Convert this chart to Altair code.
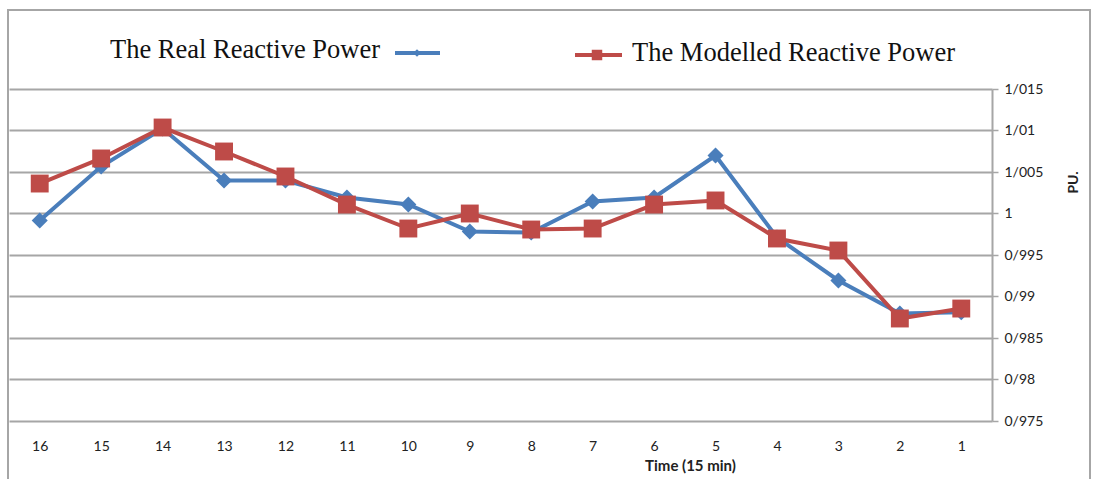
import altair as alt
import pandas as pd

times = ["16", "15", "14", "13", "12", "11", "10", "9", "8", "7", "6", "5", "4", "3", "2", "1"]
real = [0.99916, 1.00566, 1.01024, 1.00398, 1.00398, 1.00193, 1.00108, 0.99783,
        0.99771, 1.00145, 1.00193, 1.00699, 0.99711, 0.99193, 0.98795, 0.98810]
modelled = [1.00361, 1.00663, 1.01036, 1.00747, 1.00446, 1.00108, 0.99819, 1.00000,
            0.99807, 0.99819, 1.00108, 1.00157, 0.99699, 0.99554, 0.98735, 0.98855]
y_ticks = [0.975, 0.98, 0.985, 0.99, 0.995, 1.0, 1.005, 1.01, 1.015]

BLUE = "#4A7EBB"
RED = "#BE4B48"
GRID = "#A6A6A6"
AXFONT = "Lato"

df_real = pd.DataFrame({"time": times, "value": real})
df_mod = pd.DataFrame({"time": times, "value": modelled})

x_enc = alt.X(
    "time:O", sort=times, title="Time (15 min)",
    axis=alt.Axis(
        labelAngle=0, ticks=False, domain=False, grid=False,
        labelFont=AXFONT, labelFontSize=14, labelColor="#222222",
        labelPadding=18,
        titleFont=AXFONT, titleFontSize=15, titleFontWeight="bold",
        titleColor="#222222", titleX=681, titleY=44, titleBaseline="middle", titleAlign="center",
    ),
)
y_enc = alt.Y(
    "value:Q", title="PU.",
    scale=alt.Scale(domain=[0.975, 1.015], nice=False, zero=False),
    axis=alt.Axis(
        orient="right", values=y_ticks,
        labelExpr="replace(format(datum.value, '.3~f'), '.', '/')",
        labelFont=AXFONT, labelFontSize=14, labelColor="#222222",
        labelPadding=6,
        domain=True, domainColor=GRID, domainWidth=2,
        ticks=True, tickColor=GRID, tickSize=6, tickWidth=1.5,
        grid=True, gridColor=GRID, gridWidth=2,
        titleFont=AXFONT, titleFontSize=14, titleFontWeight="bold",
        titleColor="#222222", titleAngle=270, titleX=81, titleY=93,
        titleAlign="center", titleBaseline="middle",
    ),
)

real_line = alt.Chart(df_real).mark_line(color=BLUE, strokeWidth=4).encode(x=x_enc, y=y_enc)
real_pts = alt.Chart(df_real).mark_point(
    shape="diamond", filled=True, color=BLUE, size=260, opacity=1
).encode(x=x_enc, y=y_enc)
mod_line = alt.Chart(df_mod).mark_line(color=RED, strokeWidth=4).encode(x=x_enc, y=y_enc)
mod_pts = alt.Chart(df_mod).mark_square(color=RED, size=320, opacity=1).encode(x=x_enc, y=y_enc)

one = pd.DataFrame({"a": [0]})

border = alt.Chart(one).mark_rect(fill=None, stroke=GRID, strokeWidth=2).encode(
    x=alt.value(-1), x2=alt.value(1081), y=alt.value(-79), y2=alt.value(420)
)

# legend (manual, since first entry has label left of symbol)
leg_text1 = alt.Chart(one).mark_text(
    text="The Real Reactive Power", font="Liberation Serif", fontSize=26.5,
    align="left", baseline="alphabetic", color="#111111"
).encode(x=alt.value(101), y=alt.value(-31))
leg_line1 = alt.Chart(one).mark_rule(color=BLUE, strokeWidth=4).encode(
    x=alt.value(386), x2=alt.value(431), y=alt.value(-36)
)
leg_pt1 = alt.Chart(one).mark_point(
    shape="diamond", filled=True, color=BLUE, size=60, opacity=1
).encode(x=alt.value(408), y=alt.value(-36))
leg_line2 = alt.Chart(one).mark_rule(color=RED, strokeWidth=4).encode(
    x=alt.value(566), x2=alt.value(613), y=alt.value(-34)
)
leg_pt2 = alt.Chart(one).mark_square(color=RED, size=110, opacity=1).encode(
    x=alt.value(588), y=alt.value(-34)
)
leg_text2 = alt.Chart(one).mark_text(
    text="The Modelled Reactive Power", font="Liberation Serif", fontSize=26.5,
    align="left", baseline="alphabetic", color="#111111"
).encode(x=alt.value(623), y=alt.value(-28))

chart = alt.layer(
    border, real_line, mod_line, real_pts, mod_pts,
    leg_text1, leg_line1, leg_pt1, leg_line2, leg_pt2, leg_text2,
).properties(
    width=983, height=332,
    autosize=alt.AutoSizeParams(type="none"),
    padding={"left": 9, "top": 89, "right": 102, "bottom": 58},
    background="white",
).configure_view(stroke=None)

chart.save("out.html", embed_options={"renderer": "svg", "actions": False})
